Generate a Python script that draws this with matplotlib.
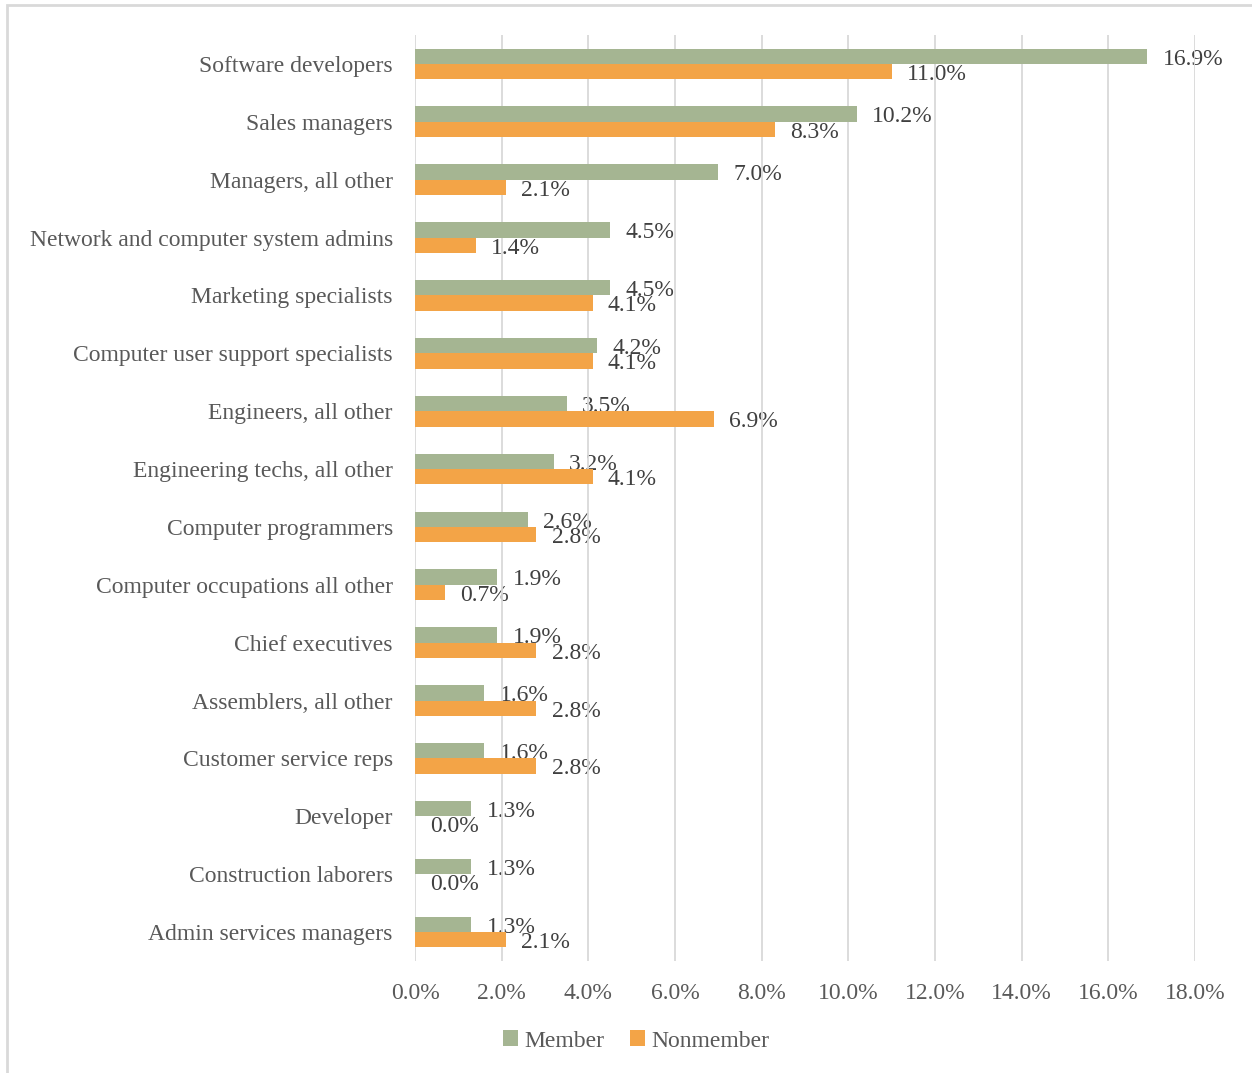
import matplotlib

matplotlib.use("Agg")
import matplotlib.pyplot as plt
import numpy as np
from matplotlib.patches import Rectangle

plt.rcParams["font.family"] = ["Liberation Serif", "DejaVu Serif"]

occupations = [
    "Software developers",
    "Sales managers",
    "Managers, all other",
    "Network and computer system admins",
    "Marketing specialists",
    "Computer user support specialists",
    "Engineers, all other",
    "Engineering techs, all other",
    "Computer programmers",
    "Computer occupations all other",
    "Chief executives",
    "Assemblers, all other",
    "Customer service reps",
    "Developer",
    "Construction laborers",
    "Admin services managers",
]
member = [16.9, 10.2, 7.0, 4.5, 4.5, 4.2, 3.5, 3.2, 2.6, 1.9, 1.9, 1.6, 1.6, 1.3, 1.3, 1.3]
nonmember = [11.0, 8.3, 2.1, 1.4, 4.1, 4.1, 6.9, 4.1, 2.8, 0.7, 2.8, 2.8, 2.8, 0.0, 0.0, 2.1]
x_ticks = np.arange(0, 18.1, 2.0)

GREEN = "#A5B592"
ORANGE = "#F3A447"
TEXT = "#595959"
LABEL = "#404040"
GRID = "#D9D9D9"

W, H = 1252, 1073
fig = plt.figure(figsize=(W / 100, H / 100), dpi=100)
ax = fig.add_axes([415 / W, 1 - 961 / H, 780 / W, 926 / H])

y = np.arange(len(occupations))
bh = 0.265
ax.barh(y - bh / 2, member, height=bh, color=GREEN, label="Member", zorder=3)
ax.barh(y + bh / 2, nonmember, height=bh, color=ORANGE, label="Nonmember", zorder=3)

# data labels sit just past the bar ends, like the Excel original
for yi, m, n in zip(y, member, nonmember):
    ax.annotate(f"{m:.1f}%", (m, yi - bh / 2), xytext=(11, -2), textcoords="offset points",
                va="center", ha="left", fontsize=17, color=LABEL, zorder=0.5)
    ax.annotate(f"{n:.1f}%", (n, yi + bh / 2), xytext=(11, -2), textcoords="offset points",
                va="center", ha="left", fontsize=17, color=LABEL, zorder=0.5)

ax.set_ylim(len(occupations) - 0.5, -0.5)
ax.set_xlim(0, 18)
ax.set_xticks(x_ticks)
ax.set_xticklabels([f"{t:.1f}%" for t in x_ticks])
ax.set_yticks(y)
ax.set_yticklabels(occupations)
ax.tick_params(axis="both", length=0, labelsize=17, colors=TEXT)
ax.tick_params(axis="x", pad=16)
ax.tick_params(axis="y", pad=16)
ax.grid(axis="x", color=GRID, lw=1.3, zorder=1)
ax.set_axisbelow(False)
for s in ax.spines.values():
    s.set_visible(False)

fig.legend(loc="center", bbox_to_anchor=(636 / W, 1 - 1041 / H), ncol=2, frameon=False,
           fontsize=17, handlelength=0.65, handleheight=0.65, handletextpad=0.25,
           columnspacing=1.1, labelcolor=TEXT)

fig.patches.append(Rectangle((7 / W, -0.01), 1.02, 1 - 5 / H + 0.01, transform=fig.transFigure,
                             fill=False, edgecolor=GRID, lw=2))

fig.savefig("out.png", dpi=100)
